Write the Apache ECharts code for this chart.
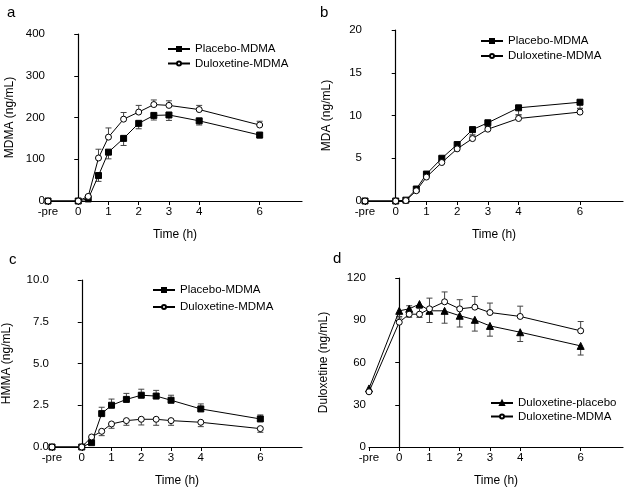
<!DOCTYPE html>
<html>
<head>
<meta charset="utf-8">
<script src="https://cdn.jsdelivr.net/npm/echarts@6/dist/echarts.min.js"></script>
<style>
  html, body { margin: 0; padding: 0; background: #fff; }
  #chart { width: 626px; height: 489px; }
</style>
</head>
<body>
<div id="chart"></div>
<script>
// sampling times, -1 stands for "-pre"
var times = [-1, 0, 0.33, 0.67, 1, 1.5, 2, 2.5, 3, 4, 6]
var xTicks = [-1, 0, 1, 2, 3, 4, 6]

// a: MDMA
var mdmaPlacebo = [0, 0, 5, 61, 117, 150, 186, 205, 206, 192, 158]
var mdmaPlaceboErr = [0, 0, 2, 14, 16, 17, 13, 11, 13, 10, 7]
var mdmaDulox = [0, 0, 11, 103, 153, 196, 213, 231, 229, 219, 182]
var mdmaDuloxErr = [0, 0, 3, 21, 22, 16, 16, 11, 11, 10, 9]

// b: MDA
var mdaPlacebo = [0, 0, 0.1, 1.4, 3.15, 5.0, 6.6, 8.35, 9.15, 10.9, 11.55]
var mdaPlaceboErr = [0, 0, 0.1, 0.2, 0.25, 0.35, 0.4, 0.6, 0.5, 0.8, 0.7]
var mdaDulox = [0, 0, 0.05, 1.2, 2.8, 4.5, 6.1, 7.3, 8.4, 9.65, 10.4]
var mdaDuloxErr = [0, 0, 0.1, 0.2, 0.25, 0.7, 0.3, 0.3, 0.3, 0.4, 0.4]

// c: HMMA
var hmmaPlacebo = [0, 0, 0.26, 2.0, 2.5, 2.85, 3.1, 3.05, 2.8, 2.28, 1.68]
var hmmaPlaceboErr = [0, 0, 0.1, 0.38, 0.37, 0.36, 0.36, 0.34, 0.3, 0.3, 0.24]
var hmmaDulox = [0, 0, 0.6, 0.94, 1.38, 1.58, 1.66, 1.66, 1.58, 1.48, 1.1]
var hmmaDuloxErr = [0, 0, 0.08, 0.26, 0.26, 0.28, 0.34, 0.36, 0.28, 0.26, 0.22]

// d: duloxetine
var duloxPlacebo = [41.6, 96.7, 98.1, 101.5, 96.7, 96.7, 93.2, 90.3, 86, 81.5, 71.8]
var duloxPlaceboErr = [0, 4, 6, 9.5, 8.3, 8.8, 8, 8, 7.3, 6.6, 6.5]
var duloxMdma = [39.2, 88.6, 94.3, 94.3, 98.1, 103.1, 98.1, 99.3, 95.5, 92.7, 82.5]
var duloxMdmaErr = [0, 3, 6, 4, 7.6, 7, 6.5, 7.6, 6.7, 7.3, 6.6]

var font = 'Liberation Sans, Arial, sans-serif'
var ink = '#000'

function pairs(vals) {
  return times.map(function(t, i) { return [t, vals[i]] })
}

// error bar rows: [time, value, end], dir 1 = up, -1 = down
function errRows(vals, errs, dir) {
  var rows = []
  times.forEach(function(t, i) {
    if (errs[i] > 0) rows.push([t, vals[i], vals[i] + dir * errs[i]])
  })
  return rows
}

function renderErr(params, api) {
  var p1 = api.coord([api.value(0), api.value(1)])
  var p2 = api.coord([api.value(0), api.value(2)])
  var st = { stroke: '#444', lineWidth: 1 }
  return {
    type: 'group',
    children: [
      { type: 'line', shape: { x1: p1[0], y1: p1[1], x2: p2[0], y2: p2[1] }, style: st },
      { type: 'line', shape: { x1: p2[0] - 3, y1: p2[1], x2: p2[0] + 3, y2: p2[1] }, style: st }
    ]
  }
}

function lineSeries(name, vals, idx, symbol, filled, size) {
  return {
    name: name,
    type: 'line',
    xAxisIndex: idx,
    yAxisIndex: idx,
    data: pairs(vals),
    symbol: symbol,
    symbolSize: size,
    showAllSymbol: true,
    lineStyle: { color: ink, width: 1 },
    itemStyle: { color: filled ? ink : '#fff', borderColor: ink, borderWidth: 1 },
    z: 3
  }
}

function errSeries(vals, errs, dir, idx) {
  return {
    type: 'custom',
    xAxisIndex: idx,
    yAxisIndex: idx,
    data: errRows(vals, errs, dir),
    renderItem: renderErr,
    silent: true,
    z: 2
  }
}

var grids = [
  { left: 48, top: 34, width: 254, height: 167 },
  { left: 365, top: 30, width: 258, height: 171 },
  { left: 52, top: 280, width: 250, height: 167 },
  { left: 369, top: 278, width: 254, height: 169 }
]

function xAxis(idx) {
  return {
    type: 'value',
    gridIndex: idx,
    min: -1,
    max: 7.4,
    interval: 1,
    name: 'Time (h)',
    nameLocation: 'middle',
    nameGap: 28,
    nameTextStyle: { fontFamily: font, fontSize: 12, color: ink },
    axisLine: { lineStyle: { color: ink, width: 1.2 } },
    axisTick: { length: 4, lineStyle: { color: ink }, customValues: xTicks },
    axisLabel: {
      customValues: xTicks,
      fontFamily: font, fontSize: 11.5, color: ink, margin: 5,
      formatter: function(v) { return v === -1 ? '-pre' : String(v) }
    },
    splitLine: { show: false }
  }
}

function yAxis(idx, name, max, step, dec, gap) {
  return {
    type: 'value',
    gridIndex: idx,
    min: 0,
    max: max,
    interval: step,
    name: name,
    nameLocation: 'middle',
    nameGap: gap,
    nameTextStyle: { fontFamily: font, fontSize: 12, color: ink },
    axisLine: { show: true, lineStyle: { color: ink, width: 1.2 } },
    axisTick: { show: true, length: 4, lineStyle: { color: ink } },
    axisLabel: {
      fontFamily: font, fontSize: 11.5, color: ink, margin: 3,
      formatter: function(v) { return v.toFixed(dec) }
    },
    splitLine: { show: false }
  }
}

function legend(names, left, top, gap) {
  return {
    data: names,
    orient: 'vertical',
    left: left,
    top: top,
    padding: 0,
    itemWidth: 22,
    itemHeight: 5,
    itemGap: gap,
    textStyle: { fontFamily: font, fontSize: 11.5, color: ink },
    selectedMode: false
  }
}

var chart = echarts.init(document.getElementById('chart'), null, { renderer: 'canvas' })
chart.setOption({
  backgroundColor: '#fff',
  animation: false,
  grid: grids,
  xAxis: [xAxis(0), xAxis(1), xAxis(2), xAxis(3)],
  yAxis: [
    yAxis(0, 'MDMA (ng/mL)', 400, 100, 0, 32),
    yAxis(1, 'MDA (ng/mL)', 20, 5, 0, 32),
    yAxis(2, 'HMMA (ng/mL)', 10, 2.5, 1, 39),
    yAxis(3, 'Duloxetine (ng/mL)', 120, 30, 0, 39)
  ],
  legend: [
    legend(['Placebo-MDMA', 'Duloxetine-MDMA'], 167, 43, 2.5),
    legend(['Placebo-MDMA', 'Duloxetine-MDMA'], 480, 35, 3),
    legend(['Placebo-MDMA', 'Duloxetine-MDMA'], 152, 284, 5),
    legend(['Duloxetine-placebo', 'Duloxetine-MDMA'], 490, 397, 1.5)
  ],
  graphic: [
    { type: 'text', left: 7, top: 5, style: { text: 'a', font: '15px ' + font, fill: ink } },
    { type: 'text', left: 320, top: 5, style: { text: 'b', font: '15px ' + font, fill: ink } },
    { type: 'text', left: 9, top: 252, style: { text: 'c', font: '15px ' + font, fill: ink } },
    { type: 'text', left: 333, top: 251, style: { text: 'd', font: '15px ' + font, fill: ink } }
  ],
  series: [
    errSeries(mdmaPlacebo, mdmaPlaceboErr, -1, 0),
    errSeries(mdmaDulox, mdmaDuloxErr, 1, 0),
    lineSeries('Placebo-MDMA', mdmaPlacebo, 0, 'rect', true, 6),
    lineSeries('Duloxetine-MDMA', mdmaDulox, 0, 'circle', false, 6),

    errSeries(mdaPlacebo, mdaPlaceboErr, -1, 1),
    errSeries(mdaDulox, mdaDuloxErr, 1, 1),
    lineSeries('Placebo-MDMA', mdaPlacebo, 1, 'rect', true, 6),
    lineSeries('Duloxetine-MDMA', mdaDulox, 1, 'circle', false, 6),

    errSeries(hmmaPlacebo, hmmaPlaceboErr, 1, 2),
    errSeries(hmmaDulox, hmmaDuloxErr, -1, 2),
    lineSeries('Placebo-MDMA', hmmaPlacebo, 2, 'rect', true, 6),
    lineSeries('Duloxetine-MDMA', hmmaDulox, 2, 'circle', false, 6),

    errSeries(duloxPlacebo, duloxPlaceboErr, -1, 3),
    errSeries(duloxMdma, duloxMdmaErr, 1, 3),
    lineSeries('Duloxetine-placebo', duloxPlacebo, 3, 'triangle', true, 7),
    lineSeries('Duloxetine-MDMA', duloxMdma, 3, 'circle', false, 6)
  ]
})
</script>
</body>
</html>
